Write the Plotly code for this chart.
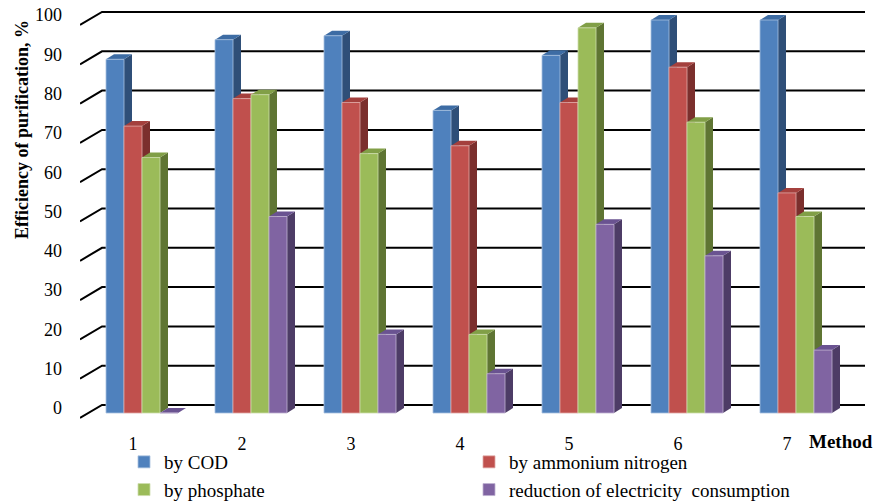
import plotly.graph_objects as go

# ---------------- data ----------------
methods = [1, 2, 3, 4, 5, 6, 7]
series_names = ["by COD", "by ammonium nitrogen", "by phosphate",
                "reduction of electricity  consumption"]
cod = [90, 95, 96, 77, 91, 100, 100]
ammonium = [73, 80, 79, 68, 79, 88, 56]
phosphate = [65, 81, 66, 20, 98, 74, 50]
electricity = [0, 50, 20, 10, 48, 40, 16]
y_ticks = [0, 10, 20, 30, 40, 50, 60, 70, 80, 90, 100]
x_tick_labels = ["1", "2", "3", "4", "5", "6", "7"]

series_values = [cod, ammonium, phosphate, electricity]

# ---------------- styles ----------------
FONT = "Liberation Serif"
front_cols = ["#4F81BD", "#C0504D", "#9BBB59", "#8064A2"]
side_cols = ["#2F4F78", "#7B2F2D", "#5F7533", "#4D3C66"]
top_cols = ["#3D6CA4", "#A4403D", "#819F47", "#6A5391"]
edge_cols = ["#A7C0E0", "#E0A8A6", "#CDDDAC", "#BFB1D0"]

W_PX, H_PX = 876, 502
PL, PR, PT, PB = 80, 865, 5, 425          # plot area in pixels
X0_PX, GROUP_PX = 142, 109                # group-1 centre, group spacing
Y0_PX, UNIT_PX = 413, 3.93                # front-plane zero and px per unit
BAR_PX = 18
DX_PX, DY_PX = 8, 5                       # bar depth projection
WALL_DX0, WALL_DX1 = 80, 102              # left wall slant x
WALL_FRONT_DY, WALL_BACK_DY = 5, -8       # offset of wall ends vs front plane


def xd(px):
    return 1 + (px - X0_PX) / GROUP_PX


def yd(px):
    return (Y0_PX - px) / UNIT_PX


def xp(px):
    return (px - PL) / (PR - PL)


def yp(px):
    return (PB - px) / (PB - PT)


xr = [xd(PL), xd(PR)]
yr = [yd(PB), yd(PT)]
bw = BAR_PX / GROUP_PX
ddx = DX_PX / GROUP_PX
ddy = DY_PX / UNIT_PX

fig = go.Figure()

# gridlines with back wall perspective (shapes below traces)
for v in y_ticks:
    yf = v - WALL_FRONT_DY / UNIT_PX
    yb = v - WALL_BACK_DY / UNIT_PX
    fig.add_shape(type="path",
                  path=f"M{xd(WALL_DX0)},{yf} L{xd(WALL_DX1)},{yb} L{xr[1]},{yb}",
                  line=dict(color="black", width=2), layer="below",
                  xref="x", yref="y")

# side and top faces of bars
for gi, m in enumerate(methods):
    for k in range(4):
        v = series_values[k][gi]
        xl = m + (k - 2) * bw
        xrr = xl + bw
        side = (f"M{xrr},0 L{xrr + ddx},{ddy} L{xrr + ddx},{v + ddy} "
                f"L{xrr},{v} Z")
        fig.add_shape(type="path", path=side, fillcolor=side_cols[k],
                      line=dict(width=0), layer="below")
        top = (f"M{xl},{v} L{xl + ddx},{v + ddy} L{xrr + ddx},{v + ddy} "
               f"L{xrr},{v} Z")
        fig.add_shape(type="path", path=top, fillcolor=top_cols[k],
                      line=dict(width=0), layer="below")

# front faces
for k in range(4):
    fig.add_trace(go.Bar(
        x=methods, y=series_values[k], name=series_names[k],
        width=bw, offset=(k - 2) * bw,
        marker=dict(color=front_cols[k],
                    line=dict(color=edge_cols[k], width=0.8)),
    ))

fig.update_layout(
    width=W_PX, height=H_PX,
    margin=dict(l=PL, r=W_PX - PR, t=PT, b=H_PX - PB, pad=0,
                autoexpand=False),
    paper_bgcolor="white", plot_bgcolor="rgba(0,0,0,0)",
    barmode="overlay",
    font=dict(family=FONT, size=18, color="black"),
    showlegend=True,
    legend=dict(orientation="h", x=xp(124), xanchor="left",
                y=yp(443), yanchor="top",
                entrywidth=300, entrywidthmode="pixels",
                font=dict(family=FONT, size=19, color="black"),
                bgcolor="rgba(0,0,0,0)", traceorder="normal"),
    xaxis=dict(range=xr, tickvals=methods, ticktext=x_tick_labels,
               showgrid=False, zeroline=False, showline=False, ticks="",
               ticklabelshift=-9, ticklabelstandoff=6, fixedrange=True,
               tickfont=dict(family=FONT, size=18, color="black")),
    yaxis=dict(range=yr, tickvals=y_ticks, showgrid=False, zeroline=False,
               showline=False, ticks="", ticklabelshift=-5,
               ticklabelstandoff=17, fixedrange=True,
               tickfont=dict(family=FONT, size=18, color="black")),
)

# axis titles
fig.add_annotation(text="<b>Efficiency of purification, %</b>",
                   xref="paper", yref="paper", x=xp(22), y=yp(130),
                   xanchor="center", yanchor="middle",
                   textangle=-90, showarrow=False,
                   font=dict(family=FONT, size=18, color="black"))
fig.add_annotation(text="<b>Method</b>", xref="paper", yref="paper",
                   x=xp(841), y=yp(441), xanchor="center", yanchor="middle",
                   showarrow=False,
                   font=dict(family=FONT, size=19, color="black"))

fig.write_html("out.html", config={"displayModeBar": False},
               post_script="document.body.style.margin='0';"
                           "document.body.style.overflow='hidden';")
